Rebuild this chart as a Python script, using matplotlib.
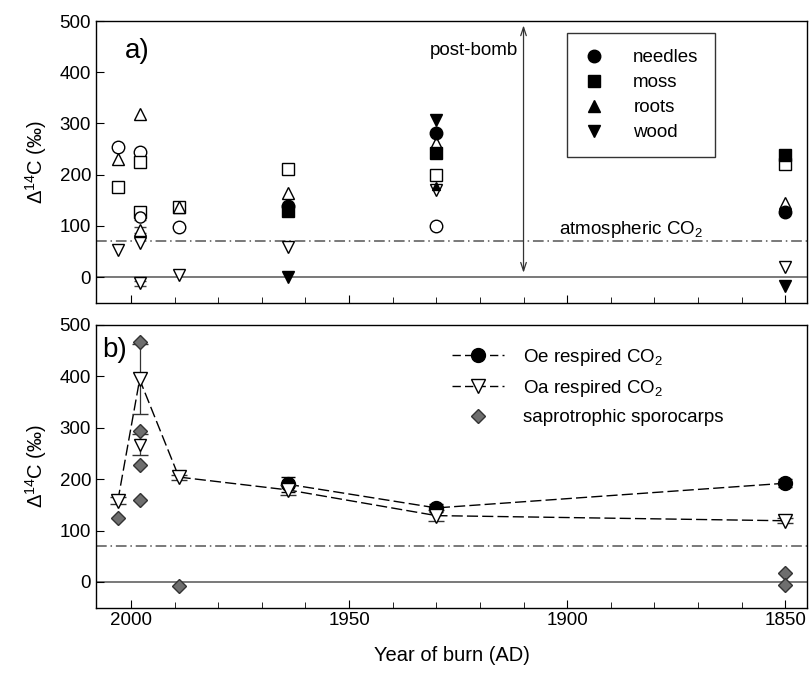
import matplotlib.pyplot as plt
from matplotlib.ticker import MultipleLocator

plt.rcParams['font.family'] = ['Liberation Sans', 'DejaVu Sans']
plt.rcParams['mathtext.fontset'] = 'custom'
plt.rcParams['mathtext.rm'] = 'Liberation Sans'
plt.rcParams['mathtext.it'] = 'Liberation Sans:italic'

# ---- panel a: filled symbols (legend entries)
needles_yr = [1964, 1930, 1850]
needles = [138, 281, 127]
moss_yr = [1964, 1930, 1850]
moss = [130, 242, 238]
roots_yr = [1930]
roots = [178]
wood_yr = [1964, 1930, 1850]
wood = [0, 306, -18]

# panel a: open symbols
o_needles_yr = [2003, 1998, 1989, 1930]
o_needles = [254, 244, 98, 100]
o_moss_yr = [2003, 1998, 1989, 1964, 1930, 1850]
o_moss = [176, 224, 136, 212, 200, 220]
o_roots_yr = [2003, 1998, 1989, 1964, 1930, 1850]
o_roots = [230, 319, 136, 164, 262, 144]
o_wood_yr = [2003, 1998, 1989, 1964, 1930, 1850]
o_wood = [53, 66, 4, 58, 170, 20]

# panel a: 1998 replicate means with error bars
rep_yr = 1998
rep_vals = [128, 117, 92, -12]
rep_err = [8, 6, 6, 5]
rep_marks = ['s', 'o', '^', 'v']

# ---- panel b
oe_yr = [1964, 1930, 1850]
oe = [190, 144, 192]
oe_err = [15, 7, 8]
oa_yr = [2003, 1998, 1989, 1964, 1930, 1850]
oa = [158, 394, 204, 179, 129, 119]
oa_err = [7, 68, 5, 10, 10, 5]
oa2_yr, oa2, oa2_err = 1998, 267, 20
spor_yr = [2003, 1998, 1998, 1998, 1998, 1989, 1850, 1850]
spor = [125, 466, 294, 228, 159, -7, 17, -6]

atm = 70

fig = plt.figure(figsize=(8.09, 6.83), dpi=100)
axa = fig.add_axes([0.1187, 0.5568, 0.8789, 0.4124])
axb = fig.add_axes([0.1187, 0.1104, 0.8789, 0.4138])

for ax in (axa, axb):
    ax.set_xlim(2008, 1845)
    ax.set_ylim(-50, 500)
    ax.axhline(0, color='#555555', lw=1.1, zorder=1)
    ax.axhline(atm, color='#555555', lw=1.1, dashes=(7, 2.5, 1, 2.5), zorder=1)
    ax.xaxis.set_major_locator(MultipleLocator(50))
    ax.xaxis.set_minor_locator(MultipleLocator(10))
    ax.yaxis.set_major_locator(MultipleLocator(100))
    ax.tick_params(direction='in', which='both', top=False, right=False,
                   labelsize=13.5)
    ax.tick_params(which='major', length=6)
    ax.tick_params(which='minor', length=4)
    ax.set_ylabel('Δ$^{14}$C (‰)', fontsize=14.5, labelpad=8)
    for s in ax.spines.values():
        s.set_linewidth(1.0)

axa.tick_params(labelbottom=False)

# ---- panel a
ms = 9
axa.plot(o_needles_yr, o_needles, 'o', mfc='white', mec='black', ms=ms, zorder=3)
axa.plot(o_moss_yr, o_moss, 's', mfc='white', mec='black', ms=ms - 1, zorder=3)
axa.plot(o_roots_yr, o_roots, '^', mfc='white', mec='black', ms=ms, zorder=3)
axa.plot(o_wood_yr, o_wood, 'v', mfc='white', mec='black', ms=ms, zorder=3)
for v, e, m in zip(rep_vals, rep_err, rep_marks):
    axa.errorbar(rep_yr, v, yerr=e, fmt=m, mfc='white', mec='black', ms=ms - 1,
                 ecolor='#444444', elinewidth=0.8, capsize=4, zorder=3)
axa.plot(needles_yr, needles, 'o', color='black', ms=ms, label='needles', zorder=4)
axa.plot(moss_yr, moss, 's', color='black', ms=ms - 1, label='moss', zorder=4)
axa.plot(roots_yr, roots, '^', color='black', ms=ms - 3, label='roots', zorder=4)
axa.plot(wood_yr, wood, 'v', color='black', ms=ms, label='wood', zorder=4)

h, l = axa.get_legend_handles_labels()
leg = axa.legend(h, l, loc='upper left', bbox_to_anchor=(0.662, 0.957),
                 frameon=True, fancybox=False, edgecolor='black', fontsize=13.5,
                 handlelength=1.2, handletextpad=1.5, labelspacing=0.42,
                 borderpad=0.85, borderaxespad=0)
leg.get_frame().set_linewidth(1.0)
leg.legend_handles[2].set_markersize(ms)

axa.annotate('', xy=(1910, 497), xytext=(1910, 3),
             arrowprops=dict(arrowstyle='<->,head_length=0.6,head_width=0.2',
                             color='#333333', lw=0.9))
axa.text(1911.3, 442, 'post-bomb', ha='right', va='center', fontsize=13.5)
axa.text(1901.8, 73, 'atmospheric CO$_2$', ha='left', va='bottom', fontsize=13.5)
axa.text(2001.5, 442, 'a)', ha='left', va='center', fontsize=20)

# ---- panel b
axb.errorbar(oe_yr, oe, yerr=oe_err, fmt='o', color='black', ms=10,
             capsize=5, elinewidth=0.9, zorder=4)
axb.plot(oe_yr, oe, color='black', lw=1.0, dashes=(8, 3), zorder=2)
axb.errorbar(oa_yr, oa, yerr=oa_err, fmt='v', mfc='white', mec='black', ms=10,
             ecolor='#333333', capsize=6, elinewidth=0.9, zorder=5)
axb.plot(oa_yr, oa, color='black', lw=1.0, dashes=(8, 3), zorder=2)
axb.errorbar(oa2_yr, oa2, yerr=oa2_err, fmt='v', mfc='white', mec='black', ms=8.5,
             ecolor='#333333', capsize=6, elinewidth=0.9, zorder=5)
axb.plot(spor_yr, spor, 'D', color='#6e6e6e', mec='#333333', ms=7.5, zorder=6)

# legend b (built from proxy handles)
hb = [plt.Line2D([], [], color='black', lw=1.0, dashes=(6, 3), marker='o', ms=10, mfc='black', mec='black'),
      plt.Line2D([], [], color='black', lw=1.0, dashes=(6, 3), marker='v', ms=10, mfc='white', mec='black'),
      plt.Line2D([], [], ls='none', marker='D', ms=7.5, mfc='#6e6e6e', mec='#333333')]
lb = ['Oe respired CO$_2$', 'Oa respired CO$_2$', 'saprotrophic sporocarps']
axb.legend(hb, lb, loc='upper left', bbox_to_anchor=(0.49, 0.95), frameon=False,
           fontsize=13.5, handlelength=2.8, handletextpad=1.0, labelspacing=0.55,
           borderaxespad=0)
axb.text(2006.5, 452, 'b)', ha='left', va='center', fontsize=20)
axb.set_xlabel('Year of burn (AD)', fontsize=14.5, labelpad=12)

fig.savefig('out.png', dpi=100)
